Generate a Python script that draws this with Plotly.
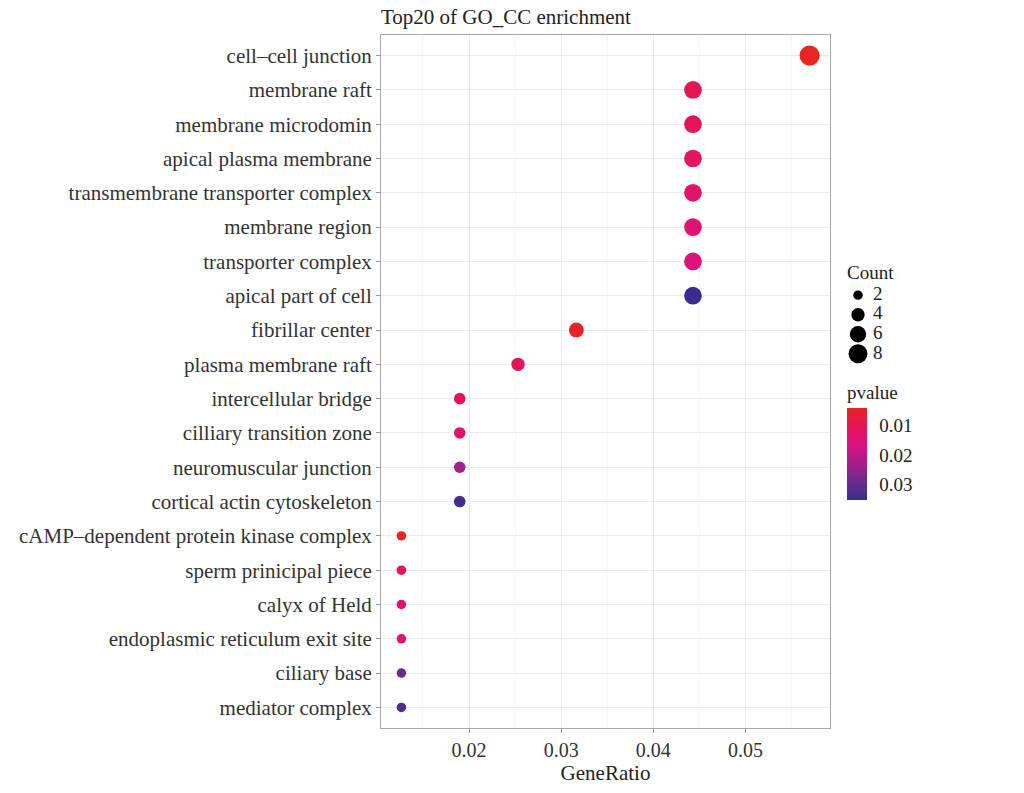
import plotly.graph_objects as go
import numpy as np

terms = [
    "cell–cell junction", "membrane raft", "membrane microdomin", "apical plasma membrane",
    "transmembrane transporter complex", "membrane region", "transporter complex",
    "apical part of cell", "fibrillar center", "plasma membrane raft", "intercellular bridge",
    "cilliary transition zone", "neuromuscular junction", "cortical actin cytoskeleton",
    "cAMP–dependent protein kinase complex", "sperm prinicipal piece", "calyx of Held",
    "endoplasmic reticulum exit site", "ciliary base", "mediator complex",
]
counts = [9, 7, 7, 7, 7, 7, 7, 7, 5, 4, 3, 3, 3, 3, 2, 2, 2, 2, 2, 2]
total_genes = 158
gene_ratio = [c / total_genes for c in counts]
pvalues = [0.0037, 0.0090, 0.0095, 0.0110, 0.0125, 0.0135, 0.0150, 0.0353, 0.0045, 0.0100,
           0.0095, 0.0130, 0.0230, 0.0340, 0.0040, 0.0105, 0.0120, 0.0140, 0.0290, 0.0320]
legend_counts = [2, 4, 6, 8]
pv_ticks = [0.01, 0.02, 0.03]

# colour scale runs from high p (blue, bottom) to low p (red, top); values are negated
colorscale = [
    [0.0, "#3A2C8C"], [0.2, "#6A2A8E"], [0.4, "#A51E8C"],
    [0.6, "#DA1283"], [0.8, "#E5145A"], [1.0, "#E8251F"],
]

def msize(c):
    return 6.7 * np.sqrt(c)

FONT = "Liberation Serif"
W, H = 1024, 793
ML, MR, MT, MB = 381, 20, 35, 60
PW, PH = W - ML - MR, H - MT - MB
MAIN_RIGHT = 830

def px_x(x):
    return (x - ML) / PW

def px_y(y):
    return (H - MB - y) / PH

fig = go.Figure()
neg_p = [-p for p in pvalues]
fig.add_trace(go.Scatter(
    x=gene_ratio, y=list(range(len(terms))), mode="markers",
    marker=dict(size=[msize(c) for c in counts], color=neg_p, colorscale=colorscale,
                cmin=min(neg_p), cmax=max(neg_p), opacity=1, line=dict(width=0),
                colorbar=dict(title=dict(text="pvalue", side="top",
                                         font=dict(size=19, family=FONT, color="#222")),
                              tickvals=[-v for v in pv_ticks], ticktext=[f"{v:.2f}" for v in pv_ticks],
                              tickfont=dict(size=19, family=FONT, color="#222"),
                              thickness=20, lenmode="pixels", len=118, outlinewidth=0,
                              ypad=0, xpad=0,
                              ticks="outside", ticklen=9, tickcolor="rgba(0,0,0,0)",
                              x=px_x(847), xanchor="left", y=px_y(384), yanchor="top")),
    showlegend=False, hoverinfo="skip",
))

# size legend drawn on its own small axes
fig.add_trace(go.Scatter(
    x=[0.3] * len(legend_counts), y=list(range(len(legend_counts))), mode="markers",
    marker=dict(size=[msize(c) for c in legend_counts], color="black", opacity=1, line=dict(width=0)),
    xaxis="x2", yaxis="y2", showlegend=False, hoverinfo="skip",
))
fig.add_trace(go.Scatter(
    x=[0.55] * len(legend_counts), y=list(range(len(legend_counts))), mode="text",
    text=[str(c) for c in legend_counts], textposition="middle right",
    textfont=dict(size=19, family=FONT, color="#222"),
    xaxis="x2", yaxis="y2", showlegend=False, hoverinfo="skip",
))

xmin, xmax = min(gene_ratio), max(gene_ratio)
pad = 0.05 * (xmax - xmin)
n = len(terms)
step = 19.7
leg_top = 297 - 0.6 * step
leg_bot = leg_top + 4.2 * step

fig.update_layout(
    width=W, height=H,
    margin=dict(l=ML, r=MR, t=MT, b=MB),
    paper_bgcolor="white", plot_bgcolor="white",
    font=dict(family=FONT, size=19, color="#333"),
    showlegend=False,
    title=dict(text="Top20 of GO_CC enrichment", x=0, xref="paper", xanchor="left",
               y=1 - 17 / H, yref="container", yanchor="middle",
               font=dict(size=21, family=FONT, color="#222")),
    xaxis=dict(domain=[0, px_x(MAIN_RIGHT)],
               range=[xmin - pad, xmax + pad], tickvals=[0.02, 0.03, 0.04, 0.05],
               ticktext=["0.02", "0.03", "0.04", "0.05"],
               showgrid=True, gridcolor="#EBEBEB", gridwidth=1,
               minor=dict(dtick=0.005, tick0=0.005, showgrid=True, gridcolor="#F4F4F4", gridwidth=0.6),
               zeroline=False, ticks="outside", ticklen=4, tickcolor="#999",
               showline=True, linecolor="#A8A8A8", linewidth=1, mirror=True,
               tickfont=dict(size=20, family=FONT, color="#333"),
               title=dict(text="GeneRatio", font=dict(size=21, family=FONT, color="#222"), standoff=5)),
    yaxis=dict(range=[n - 0.4, -0.6], tickvals=list(range(n)), ticktext=terms,
               showgrid=True, gridcolor="#EBEBEB", gridwidth=1, zeroline=False,
               ticks="outside", ticklen=4, tickcolor="#999",
               showline=True, linecolor="#A8A8A8", linewidth=1, mirror=True,
               tickfont=dict(size=21, family=FONT, color="#333")),
    xaxis2=dict(domain=[px_x(840), px_x(900)], range=[0, 1], anchor="y2",
                visible=False, fixedrange=True),
    yaxis2=dict(domain=[px_y(leg_bot), px_y(leg_top)], range=[3.6, -0.6], anchor="x2",
                visible=False, fixedrange=True),
    annotations=[dict(text="Count", x=px_x(845), y=px_y(274), xref="paper", yref="paper",
                      xanchor="left", yanchor="middle", showarrow=False,
                      font=dict(size=19, family=FONT, color="#222"))],
)
fig.write_html("out.html")
